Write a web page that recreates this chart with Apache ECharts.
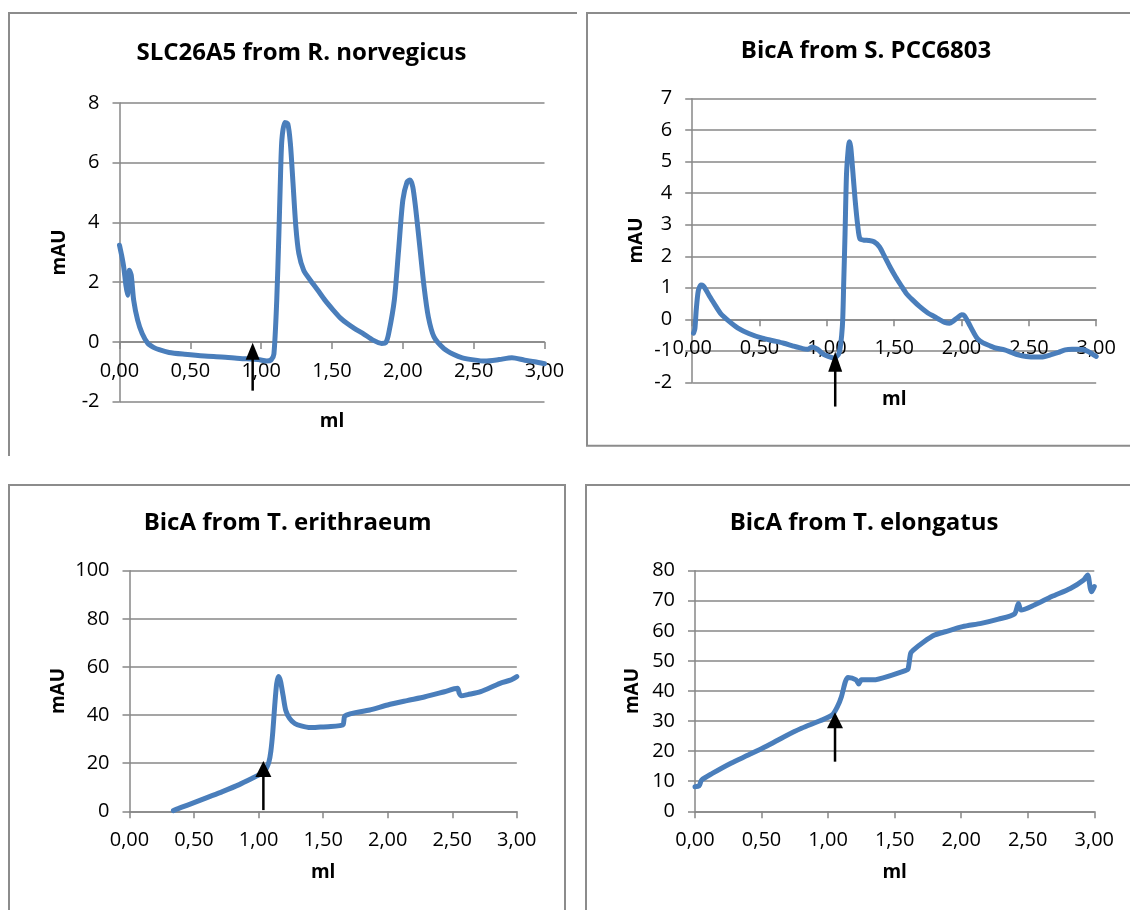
<!DOCTYPE html>
<html>
<head>
<meta charset="utf-8">
<title>Size-exclusion profiles</title>
<script src="https://cdn.jsdelivr.net/npm/echarts@6/dist/echarts.min.js"></script>
<style>
  html, body { margin: 0; padding: 0; background: #ffffff; }
  #chart { width: 1130px; height: 910px; }
</style>
</head>
<body>
<div id="chart"></div>
<script>
// ---- Elution profiles (volume in ml, absorbance in mAU) ----
const slcX = [0, 0.015, 0.03, 0.045, 0.057, 0.07, 0.083, 0.1, 0.128, 0.16, 0.2, 0.24, 0.28, 0.35, 0.46, 0.6, 0.72, 0.85, 0.98, 1.04, 1.07, 1.09, 1.11, 1.125, 1.135, 1.146, 1.167, 1.188, 1.206, 1.225, 1.245, 1.266, 1.3, 1.35, 1.4, 1.45, 1.51, 1.56, 1.61, 1.66, 1.72, 1.79, 1.85, 1.88, 1.9, 1.94, 1.97, 2.0, 2.03, 2.05, 2.07, 2.09, 2.12, 2.15, 2.18, 2.22, 2.29, 2.36, 2.42, 2.5, 2.58, 2.68, 2.77, 2.86, 2.93, 3.0];
const slcY = [3.24, 2.9, 2.5, 1.9, 1.56, 2.4, 2.23, 1.4, 0.73, 0.28, -0.05, -0.18, -0.26, -0.35, -0.41, -0.47, -0.5, -0.55, -0.59, -0.64, -0.6, -0.4, 1.4, 3.6, 5.3, 6.76, 7.35, 7.3, 6.65, 5.3, 3.85, 2.96, 2.4, 2.05, 1.73, 1.4, 1.06, 0.8, 0.61, 0.45, 0.28, 0.06, -0.05, -0.02, 0.28, 1.4, 3.07, 4.75, 5.36, 5.42, 5.2, 4.5, 3.18, 1.84, 0.84, 0.17, -0.22, -0.42, -0.53, -0.6, -0.64, -0.59, -0.53, -0.61, -0.66, -0.73];

const synX = [0.01, 0.02, 0.03, 0.045, 0.065, 0.08, 0.1, 0.13, 0.17, 0.21, 0.27, 0.34, 0.42, 0.52, 0.6, 0.68, 0.75, 0.82, 0.86, 0.89, 0.93, 0.97, 1.01, 1.05, 1.09, 1.115, 1.125, 1.135, 1.146, 1.16, 1.167, 1.177, 1.19, 1.21, 1.23, 1.245, 1.276, 1.31, 1.35, 1.39, 1.43, 1.47, 1.51, 1.55, 1.59, 1.64, 1.69, 1.75, 1.8, 1.84, 1.875, 1.91, 1.94, 1.97, 2.0, 2.02, 2.04, 2.06, 2.09, 2.12, 2.16, 2.21, 2.26, 2.32, 2.37, 2.42, 2.48, 2.55, 2.61, 2.66, 2.72, 2.77, 2.82, 2.86, 2.9, 2.94, 2.97, 3.0];
const synY = [-0.44, -0.3, 0.3, 0.9, 1.09, 1.07, 0.95, 0.72, 0.45, 0.19, -0.05, -0.28, -0.45, -0.6, -0.68, -0.76, -0.85, -0.93, -0.95, -0.88, -0.95, -1.1, -1.18, -1.23, -1.08, -0.23, 1.14, 2.72, 4.62, 5.47, 5.63, 5.47, 4.84, 3.78, 2.94, 2.56, 2.51, 2.5, 2.46, 2.3, 1.98, 1.65, 1.35, 1.08, 0.82, 0.6, 0.4, 0.2, 0.08, -0.02, -0.1, -0.13, -0.05, 0.05, 0.14, 0.12, -0.02, -0.18, -0.42, -0.62, -0.75, -0.84, -0.92, -0.97, -1.05, -1.13, -1.18, -1.2, -1.19, -1.13, -1.05, -0.97, -0.95, -0.95, -0.96, -1.02, -1.1, -1.18];

const eryX = [0.34, 0.4, 0.5, 0.6, 0.72, 0.85, 0.95, 1.0, 1.04, 1.06, 1.08, 1.095, 1.11, 1.125, 1.14, 1.155, 1.17, 1.19, 1.21, 1.24, 1.28, 1.33, 1.4, 1.48, 1.56, 1.63, 1.655, 1.665, 1.68, 1.75, 1.86, 2.0, 2.15, 2.29, 2.44, 2.54, 2.555, 2.57, 2.62, 2.72, 2.87, 2.95, 3.0];
const eryY = [0.3, 1.6, 3.6, 5.7, 8.2, 11.1, 13.7, 15.1, 16.2, 17.8, 20.5, 25, 33, 44, 53, 56, 54, 48, 42, 38.6, 36.5, 35.5, 34.8, 35, 35.2, 35.6, 36, 39.3, 40, 41, 42.1, 44.2, 46, 47.6, 49.7, 51.1, 49, 48, 48.5, 49.7, 53.2, 54.5, 56];

const eloX = [0, 0.03, 0.05, 0.13, 0.27, 0.4, 0.54, 0.67, 0.8, 0.94, 1.03, 1.07, 1.1, 1.13, 1.15, 1.21, 1.23, 1.25, 1.34, 1.48, 1.58, 1.6, 1.62, 1.64, 1.72, 1.8, 1.88, 2.01, 2.15, 2.28, 2.4, 2.43, 2.45, 2.55, 2.68, 2.82, 2.92, 2.95, 2.97, 2.98, 3.0];
const eloY = [8.2, 8.4, 10.4, 12.6, 16, 18.7, 21.7, 24.8, 27.6, 30.1, 32, 34.8, 38.1, 43.1, 44.5, 43.7, 42.3, 43.7, 43.7, 45.3, 46.8, 47.2, 52.5, 53.6, 56.4, 58.6, 59.7, 61.4, 62.5, 63.9, 65.6, 69.1, 66.9, 68.6, 71.4, 74.1, 76.9, 78.6, 74.1, 73, 74.7];

// Injection arrows: [volume, shaft bottom, tip] in data units
const slcArrow = [0.94, -1.63, -0.03];
const synArrow = [1.062, -2.77, -1.03];
const eryArrow = [1.037, 0.5, 20.9];
const eloArrow = [1.052, 16.5, 32.9];

// Axis settings
const xTicks = { min: 0, max: 3, step: 0.5 };
const yRanges = [
  { min: -2, max: 8, step: 2 },
  { min: -2, max: 7, step: 1 },
  { min: 0, max: 100, step: 20 },
  { min: 0, max: 80, step: 10 }
];
const titles = [
  'SLC26A5 from R. norvegicus',
  'BicA from S. PCC6803',
  'BicA from T. erithraeum',
  'BicA from T. elongatus'
];
const xName = 'ml';
const yName = 'mAU';

// ---- Layout ----
const FONT = '"Open Sans", "Noto Sans", sans-serif';
const GRID_COLOR = '#878787';
const LINE_COLOR = '#4a7ebb';

const grids = [
  { left: 119.5, top: 103, width: 425, height: 298.7 },
  { left: 692.2, top: 98.7, width: 404, height: 283.6 },
  { left: 129.5, top: 570.7, width: 387.3, height: 240.6 },
  { left: 695, top: 570.7, width: 399.3, height: 240.6 }
];
const titlePos = [
  { x: 301.5, y: 41 },
  { x: 866, y: 39 },
  { x: 287.6, y: 511 },
  { x: 864, y: 511 }
];
const xNameGap = [70, 71, 52, 52];
const yNameGap = [50, 46.5, 61, 53];
// arrow head [width, height] in px
const heads = [[14, 17], [14, 20], [16, 16], [16, 16]];

const seriesXs = [slcX, synX, eryX, eloX];
const seriesYs = [slcY, synY, eryY, eloY];
const arrows = [slcArrow, synArrow, eryArrow, eloArrow];

function zip(xs, ys) {
  return xs.map((x, i) => [x, ys[i]]);
}
function fmtX(v) {
  return v.toFixed(2).replace('.', ',');
}
// the x axis crosses the value axis at zero
function zeroOffset(i) {
  const r = yRanges[i];
  return -(0 - r.min) / (r.max - r.min) * grids[i].height;
}

function arrowSeries(i) {
  return {
    type: 'custom',
    xAxisIndex: i,
    yAxisIndex: i,
    clip: false,
    silent: true,
    z: 5,
    data: [arrows[i]],
    encode: { x: 0, y: [1, 2] },
    renderItem: function (params, api) {
      const bot = api.coord([api.value(0), api.value(1)]);
      const tip = api.coord([api.value(0), api.value(2)]);
      const w = heads[i][0], h = heads[i][1];
      return {
        type: 'group',
        children: [
          { type: 'line', shape: { x1: bot[0], y1: bot[1], x2: tip[0], y2: tip[1] + h * 0.6 },
            style: { stroke: '#000', lineWidth: 2.5 } },
          { type: 'polygon', shape: { points: [[tip[0], tip[1]], [tip[0] - w / 2, tip[1] + h], [tip[0] + w / 2, tip[1] + h]] },
            style: { fill: '#000' } }
        ]
      };
    }
  };
}

const option = {
  animation: false,
  backgroundColor: '#ffffff',
  title: titles.map((t, i) => ({
    text: t,
    left: titlePos[i].x,
    top: titlePos[i].y,
    textAlign: 'center',
    padding: 0,
    textStyle: { fontFamily: FONT, fontWeight: 'bold', fontSize: 24, color: '#000' }
  })),
  grid: grids,
  xAxis: grids.map((g, i) => ({
    type: 'value',
    gridIndex: i,
    min: xTicks.min,
    max: xTicks.max,
    interval: xTicks.step,
    offset: zeroOffset(i),
    name: xName,
    nameLocation: 'middle',
    nameGap: xNameGap[i],
    nameTextStyle: { fontFamily: FONT, fontWeight: 'bold', fontSize: 19, color: '#000' },
    axisLine: { show: true, onZero: false, lineStyle: { color: GRID_COLOR, width: 1.5 } },
    axisTick: { show: true, length: 7, lineStyle: { color: GRID_COLOR, width: 1.5 } },
    axisLabel: { margin: 19, fontFamily: FONT, fontSize: 20, color: '#000', formatter: fmtX, showMinLabel: true, showMaxLabel: true },
    splitLine: { show: false }
  })),
  yAxis: grids.map((g, i) => ({
    type: 'value',
    gridIndex: i,
    min: yRanges[i].min,
    max: yRanges[i].max,
    interval: yRanges[i].step,
    name: yName,
    nameLocation: 'middle',
    nameGap: yNameGap[i],
    nameRotate: 90,
    nameTextStyle: { fontFamily: FONT, fontWeight: 'bold', fontSize: 19, color: '#000' },
    axisLine: { show: true, onZero: false, lineStyle: { color: GRID_COLOR, width: 1.5 } },
    axisTick: { show: true, length: 7, lineStyle: { color: GRID_COLOR, width: 1.5 } },
    axisLabel: { margin: 20, fontFamily: FONT, fontSize: 20, color: '#000' },
    splitLine: { show: true, lineStyle: { color: GRID_COLOR, width: 1.5 } }
  })),
  series: seriesXs.map((xs, i) => ({
    type: 'line',
    xAxisIndex: i,
    yAxisIndex: i,
    data: zip(xs, seriesYs[i]),
    showSymbol: false,
    symbol: 'none',
    smooth: 0.25,
    clip: false,
    z: 3,
    lineStyle: { color: LINE_COLOR, width: 5, cap: 'round', join: 'round' }
  })).concat([0, 1, 2, 3].map(arrowSeries)),
  graphic: [
    // chart-area frames
    { type: 'polyline', silent: true, shape: { points: [[9, 456], [9, 13], [577, 13]] }, style: { stroke: '#8c8c8c', lineWidth: 2, fill: null } },
    { type: 'polyline', silent: true, shape: { points: [[1131, 13], [587, 13], [587, 445.7], [1131, 445.7]] }, style: { stroke: '#8c8c8c', lineWidth: 2, fill: null } },
    { type: 'polyline', silent: true, shape: { points: [[9, 911], [9, 485], [565, 485], [565, 911]] }, style: { stroke: '#8c8c8c', lineWidth: 2, fill: null } },
    { type: 'polyline', silent: true, shape: { points: [[586, 911], [586, 485], [1131, 485]] }, style: { stroke: '#8c8c8c', lineWidth: 2, fill: null } }
  ]
};

const chart = echarts.init(document.getElementById('chart'), null, { renderer: 'canvas' });
chart.setOption(option);
</script>
</body>
</html>
